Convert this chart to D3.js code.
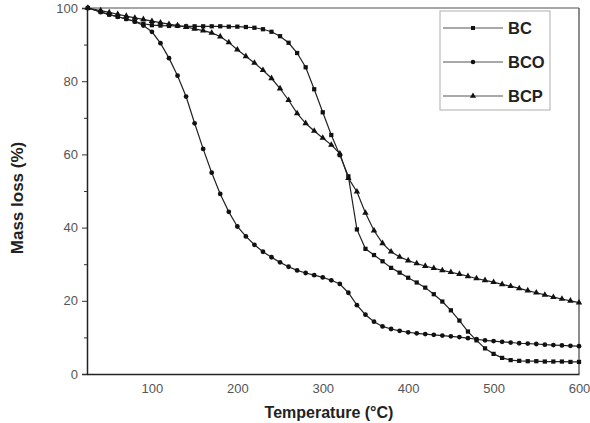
<!DOCTYPE html>
<html lang="en">
<head>
<meta charset="utf-8">
<title>TGA curves</title>
<script src="https://cdn.jsdelivr.net/npm/d3@7"></script>
<style>
  body { margin: 0; background: #fff; overflow: hidden; }
  svg { display: block; }
  text { font-family: "Liberation Sans", Arial, sans-serif; }
</style>
</head>
<body>
<script>
/* data */
var temps = [25, 40, 50, 60, 70, 80, 90, 100, 110, 120, 130, 140, 150, 160, 170, 180, 190, 200,
             210, 220, 230, 240, 250, 260, 270, 280, 290, 300, 310, 320, 330, 340, 350, 360, 370,
             380, 390, 400, 410, 420, 430, 440, 450, 460, 470, 480, 490, 500, 510, 520, 530, 540,
             550, 560, 570, 580, 590, 600];

var bc  = [100, 98.9, 98.2, 97.6, 97.0, 96.3, 95.7, 95.3, 95.2, 95.1, 95.1, 95.0, 95.0, 95.0, 95.0, 95.0, 94.9, 94.9,
           94.8, 94.6, 94.2, 93.5, 92.3, 90.5, 87.7, 83.8, 77.8, 71.5, 65.3, 59.8, 54.0, 39.5, 34.2, 32.5, 30.8,
           29.0, 27.7, 26.3, 25.0, 23.6, 21.8, 19.8, 17.4, 14.6, 11.6, 9.2, 7.0, 5.5, 4.4, 3.8, 3.6, 3.5,
           3.5, 3.4, 3.4, 3.4, 3.3, 3.3];

var bco = [100, 98.9, 98.2, 97.6, 97.0, 96.3, 95.2, 93.5, 90.4, 86.3, 81.5, 75.8, 68.5, 61.5, 55.0, 49.2, 44.3, 40.3,
           37.6, 35.3, 33.4, 31.9, 30.5, 29.3, 28.3, 27.6, 27.0, 26.4, 25.6, 24.6, 22.2, 18.8, 16.2, 14.3, 13.0,
           12.3, 11.8, 11.4, 11.1, 10.9, 10.7, 10.5, 10.3, 10.1, 9.8, 9.5, 9.2, 9.0, 8.8, 8.6, 8.4, 8.3,
           8.2, 8.0, 7.9, 7.8, 7.7, 7.6];

var bcp = [100, 99.3, 98.8, 98.3, 97.8, 97.3, 96.9, 96.4, 96.0, 95.6, 95.2, 94.8, 94.3, 93.8, 93.2, 92.2, 90.6, 88.6,
           86.8, 85.0, 83.0, 80.8, 78.0, 74.8, 71.2, 68.5, 66.4, 64.5, 62.6, 60.2, 53.5, 49.8, 44.0, 39.2, 35.7,
           33.4, 32.0, 31.0, 30.2, 29.5, 28.9, 28.3, 27.8, 27.3, 26.7, 26.1, 25.6, 25.1, 24.5, 24.0, 23.4, 22.8,
           22.2, 21.6, 21.0, 20.5, 20.0, 19.5];

var seriesNames = ["BC", "BCO", "BCP"];
var seriesSymbols = [d3.symbolSquare, d3.symbolCircle, d3.symbolTriangle];
var xTicks = [100, 200, 300, 400, 500, 600];
var yTicks = [0, 20, 40, 60, 80, 100];

var w = 590, h = 423;
var mLeft = 87, mRight = 579, mTop = 8, mBottom = 374;

var svg = d3.select("body").append("svg")
            .attr("width", w)
            .attr("height", h);

var xScale = d3.scaleLinear().domain([24, 600]).range([mLeft, mRight]);
var yScale = d3.scaleLinear().domain([0, 100]).range([mBottom, mTop]);

/* frame: top and right in grey */
svg.append("line").attr("x1", mLeft).attr("x2", mRight).attr("y1", mTop).attr("y2", mTop)
   .attr("stroke", "#888").attr("stroke-width", 1.5);
svg.append("line").attr("x1", mRight).attr("x2", mRight).attr("y1", mTop).attr("y2", mBottom)
   .attr("stroke", "#666").attr("stroke-width", 1.5);

/* y axis with minor ticks */
var yAxis = d3.axisLeft(yScale).tickValues(yTicks).tickSize(5).tickPadding(4);
svg.append("g").attr("transform", "translate(" + mLeft + ",0)").call(yAxis);
var yMinor = d3.axisLeft(yScale).tickValues([10, 30, 50, 70, 90]).tickSize(3).tickFormat("");
svg.append("g").attr("transform", "translate(" + mLeft + ",0)").call(yMinor)
   .select(".domain").remove();

/* x axis: labels only, no tick marks */
var xAxis = d3.axisBottom(xScale).tickValues(xTicks).tickSize(0).tickPadding(10);
svg.append("g").attr("transform", "translate(0," + mBottom + ")").call(xAxis);

svg.selectAll(".domain").attr("stroke", "#222").attr("stroke-width", 1.5);
svg.selectAll(".tick line").attr("stroke", "#333");
svg.selectAll(".tick text").attr("font-size", "13px").attr("fill", "#555")
   .attr("font-family", "'Liberation Sans', Arial, sans-serif");

/* axis titles */
svg.append("text")
   .attr("transform", "translate(23,198) rotate(-90)")
   .attr("text-anchor", "middle")
   .attr("font-size", "17px").attr("font-weight", "bold").attr("fill", "#222")
   .text("Mass loss (%)");
svg.append("text")
   .attr("x", 329).attr("y", 418)
   .attr("text-anchor", "middle")
   .attr("font-size", "16px").attr("font-weight", "bold").attr("fill", "#222")
   .text("Temperature (°C)");

/* curves */
var allSeries = [bc, bco, bcp];
var line = d3.line()
             .x(function(d, i) { return xScale(temps[i]); })
             .y(function(d) { return yScale(d); });

allSeries.forEach(function(vals, k) {
  svg.append("path")
     .datum(vals)
     .attr("d", line)
     .attr("fill", "none")
     .attr("stroke", "#222")
     .attr("stroke-width", 1.2);
  svg.selectAll(".m" + k)
     .data(vals)
     .enter()
     .append("path")
     .attr("class", "m" + k)
     .attr("d", d3.symbol().type(seriesSymbols[k]).size(18))
     .attr("transform", function(d, i) {
        return "translate(" + xScale(temps[i]) + "," + yScale(d) + ")";
     })
     .attr("fill", "#111");
});

/* legend */
var lg = svg.append("g");
lg.append("rect").attr("x", 440).attr("y", 11).attr("width", 110).attr("height", 99)
  .attr("fill", "#fff").attr("stroke", "#bbb").attr("stroke-width", 1.2);
var legendRows = [28, 62, 96];
seriesNames.forEach(function(name, k) {
  lg.append("line").attr("x1", 443).attr("x2", 503)
    .attr("y1", legendRows[k]).attr("y2", legendRows[k])
    .attr("stroke", "#555").attr("stroke-width", 1.2);
  lg.append("path")
    .attr("d", d3.symbol().type(seriesSymbols[k]).size(16))
    .attr("transform", "translate(473," + legendRows[k] + ")")
    .attr("fill", "#111");
  lg.append("text").attr("x", 508).attr("y", legendRows[k] + 6)
    .attr("font-size", "16.5px").attr("font-weight", "bold").attr("fill", "#222")
    .text(name);
});
</script>
</body>
</html>
